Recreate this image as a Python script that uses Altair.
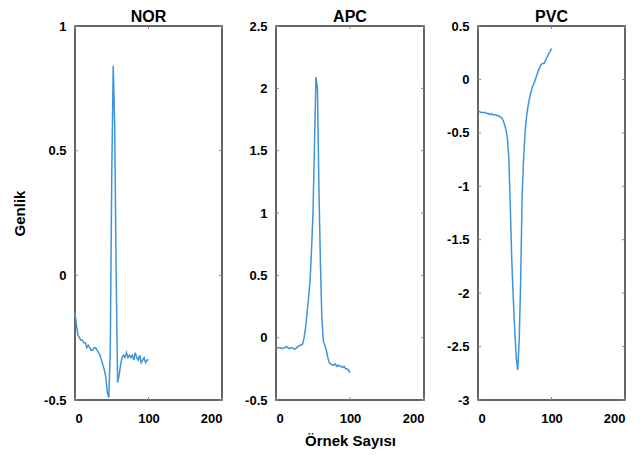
import altair as alt
import pandas as pd

# sample index (every 2nd sample)
x_vals = list(range(0, 101, 2))

nor = [-0.15, -0.20, -0.24, -0.25, -0.26, -0.26, -0.27, -0.27, -0.29, -0.28,
       -0.29, -0.30, -0.30, -0.29, -0.29, -0.30, -0.31, -0.32, -0.34, -0.36,
       -0.38, -0.41, -0.47, -0.49, -0.30, 0.40, 0.84, 0.60, 0.00, -0.43,
       -0.40, -0.36, -0.33, -0.32, -0.33, -0.31, -0.33, -0.32, -0.33, -0.32,
       -0.34, -0.31, -0.33, -0.34, -0.32, -0.35, -0.34, -0.33, -0.35, -0.34,
       -0.34]

apc = [-0.07, -0.08, -0.08, -0.08, -0.09, -0.08, -0.08, -0.07, -0.08, -0.09,
       -0.08, -0.08, -0.09, -0.09, -0.08, -0.07, -0.06, -0.06, -0.05, 0.00,
       0.08, 0.20, 0.32, 0.45, 0.70, 1.00, 1.55, 2.09, 2.00, 1.20,
       0.60, 0.15, -0.03, -0.06, -0.10, -0.16, -0.20, -0.21, -0.22, -0.22,
       -0.21, -0.23, -0.22, -0.23, -0.23, -0.24, -0.23, -0.25, -0.25, -0.26,
       -0.28]

pvc = [-0.30, -0.30, -0.31, -0.31, -0.31, -0.31, -0.32, -0.32, -0.33, -0.32,
       -0.33, -0.33, -0.33, -0.34, -0.34, -0.35, -0.36, -0.38, -0.42, -0.47,
       -0.55, -0.75, -1.20, -1.70, -2.05, -2.35, -2.60, -2.72, -2.45, -1.90,
       -1.10, -0.75, -0.50, -0.35, -0.25, -0.18, -0.12, -0.07, -0.04, 0.00,
       0.04, 0.08, 0.11, 0.14, 0.15, 0.15, 0.18, 0.21, 0.24, 0.26,
       0.29]

titles = ["NOR", "APC", "PVC"]
y_domains = [[-0.5, 1], [-0.5, 2.5], [-3, 0.5]]
y_ticks = [[-0.5, 0, 0.5, 1],
           [-0.5, 0, 0.5, 1, 1.5, 2, 2.5],
           [-3, -2.5, -2, -1.5, -1, -0.5, 0, 0.5]]
x_ticks = [0, 100, 200]

H = 374
LINE = "#3d94dc"
FONT = "Liberation Sans"


def panel(i, series, W, ytitle=None, xtitle=None):
    df = pd.DataFrame({"x": x_vals, "y": series})
    xs = alt.Scale(domain=[0, 200], nice=False, zero=False)
    ys = alt.Scale(domain=y_domains[i], nice=False, zero=False)

    def xaxis():
        return alt.Axis(values=x_ticks, title=xtitle, labelExpr="'' + datum.value",
                        tickSize=0, domain=False, grid=False, labelPadding=12,
                        titlePadding=8)

    def yaxis():
        return alt.Axis(values=y_ticks[i], title=ytitle, labelExpr="'' + datum.value",
                        tickSize=0, domain=False, grid=False, labelPadding=9,
                        titlePadding=16)

    line = alt.Chart(df).mark_line(color=LINE, strokeWidth=1.5).encode(
        x=alt.X("x:Q", scale=xs, axis=xaxis()),
        y=alt.Y("y:Q", scale=ys, axis=yaxis()),
    )
    yt = pd.DataFrame({"y": y_ticks[i]})
    xt = pd.DataFrame({"x": x_ticks})
    tick_style = dict(color="#8a8a8a", strokeWidth=1)
    yl = alt.Chart(yt).mark_rule(**tick_style).encode(
        y=alt.Y("y:Q", scale=ys, axis=yaxis()), x=alt.value(0), x2=alt.value(3))
    yr = alt.Chart(yt).mark_rule(**tick_style).encode(
        y=alt.Y("y:Q", scale=ys, axis=yaxis()), x=alt.value(W - 3), x2=alt.value(W))
    xb = alt.Chart(xt).mark_rule(**tick_style).encode(
        x=alt.X("x:Q", scale=xs, axis=xaxis()), y=alt.value(H - 3), y2=alt.value(H))
    xtp = alt.Chart(xt).mark_rule(**tick_style).encode(
        x=alt.X("x:Q", scale=xs, axis=xaxis()), y=alt.value(0), y2=alt.value(3))
    return alt.layer(line, yl, yr, xb, xtp).properties(
        width=W, height=H,
        title=alt.TitleParams(titles[i], fontSize=16, fontWeight="bold",
                              font=FONT, color="black", offset=-5),
    )


p1 = panel(0, nor, 147, ytitle="Genlik")
p2 = panel(1, apc, 148, xtitle="Örnek Sayısı")
p3 = panel(2, pvc, 147)

chart = alt.hconcat(p1, p2, p3, spacing=19).configure_view(
    stroke="#333333", strokeWidth=1.5
).configure_axis(
    labelFont=FONT, labelFontSize=13, labelFontWeight="bold", labelColor="black",
    titleFont=FONT, titleFontSize=15, titleFontWeight="bold", titleColor="black",
).properties(background="white",
             padding={"left": 3, "top": 0, "right": 0, "bottom": 0})

chart.save("out.html", embed_options={"renderer": "svg", "actions": False})
